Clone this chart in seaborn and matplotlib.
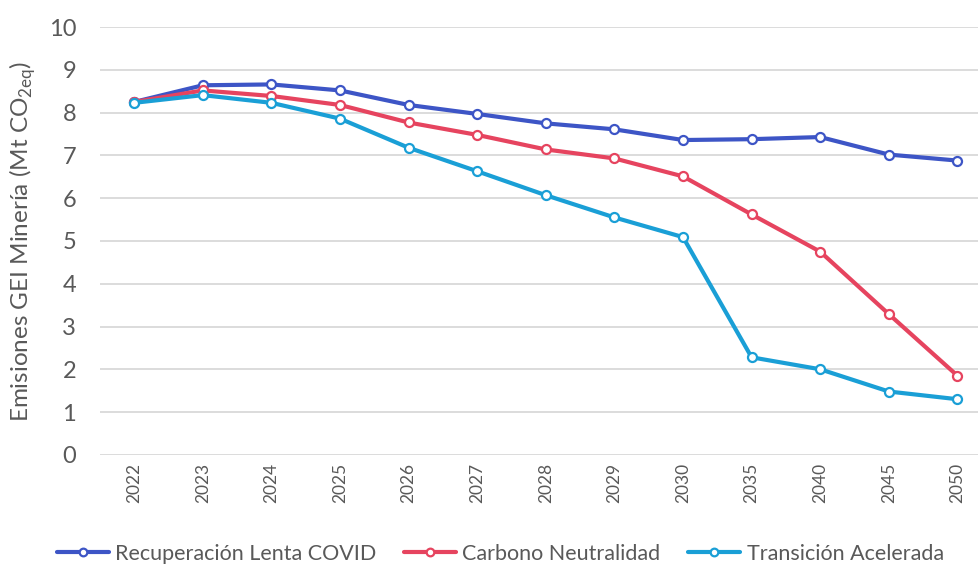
import matplotlib
matplotlib.use("Agg")
import matplotlib.pyplot as plt
import pandas as pd
import seaborn as sns

# ---------------------------------------------------------------------------
# Data (Mt CO2eq)
# ---------------------------------------------------------------------------
YEARS = ["2022", "2023", "2024", "2025", "2026", "2027", "2028",
         "2029", "2030", "2035", "2040", "2045", "2050"]
RECUPERACION = [8.25, 8.64, 8.66, 8.52, 8.18, 7.97, 7.75,
                7.61, 7.36, 7.38, 7.43, 7.02, 6.88]
CARBONO = [8.25, 8.52, 8.39, 8.18, 7.77, 7.48, 7.14,
           6.93, 6.51, 5.62, 4.75, 3.29, 1.85]
TRANSICION = [8.23, 8.41, 8.23, 7.86, 7.18, 6.63, 6.07,
              5.55, 5.09, 2.28, 2.00, 1.48, 1.30]

SERIES = {
    "Recuperación Lenta COVID": RECUPERACION,
    "Carbono Neutralidad": CARBONO,
    "Transición Acelerada": TRANSICION,
}
COLORS = ["#3D55C6", "#E6445F", "#1A9FD6"]

sns.set_theme(style="white")
plt.rcParams["font.family"] = ["Lato", "DejaVu Sans"]

df = pd.DataFrame(
    [(name, yr, v) for name, vals in SERIES.items() for yr, v in zip(YEARS, vals)],
    columns=["Escenario", "Año", "Emisiones"],
)

fig = plt.figure(figsize=(9.79, 5.65), dpi=100)
ax = fig.add_axes([0.102, 0.195, 0.911, 0.757])

sns.lineplot(
    data=df, x="Año", y="Emisiones", hue="Escenario", palette=COLORS,
    marker="o", markersize=6.5, markerfacecolor="white", markeredgewidth=1.6,
    linewidth=3, sort=False, ax=ax,
)
for line, c in zip(ax.lines, COLORS):
    line.set_markeredgecolor(c)

ax.set_xlim(-0.5, len(YEARS) - 0.5)
ax.set_ylim(0, 10)
ax.set_yticks(range(0, 11))
ax.yaxis.grid(True, color="#d9d9d9", linewidth=1.3)
ax.set_axisbelow(True)
for s in ax.spines.values():
    s.set_visible(False)

ax.tick_params(axis="y", labelsize=17, colors="#595959", length=0, pad=17)
ax.tick_params(axis="x", labelsize=12.5, colors="#595959", length=0, rotation=90, pad=6)
ax.set_xlabel("")
ax.set_ylabel("Emisiones GEI Minería (Mt CO$_{\\mathregular{2eq}}$)",
              fontsize=17.5, color="#595959", labelpad=8)

handles, labels = ax.get_legend_handles_labels()
for h, c in zip(handles, COLORS):
    h.set_markeredgecolor(c)
    h.set_markerfacecolor("white")
    h.set_markersize(5.5)
ax.legend(handles, labels, loc="lower center", bbox_to_anchor=(0.449, -0.3),
          ncol=3, frameon=False, fontsize=15.5, labelcolor="#595959",
          handlelength=2.4, handletextpad=0.3, columnspacing=1.3)

fig.savefig("out.png", dpi=100)
